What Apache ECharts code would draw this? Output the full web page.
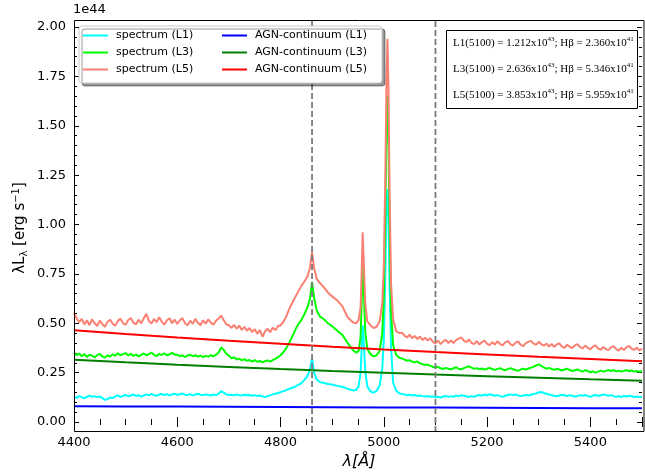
<!DOCTYPE html>
<html><head><meta charset="utf-8">
<script src="https://cdn.jsdelivr.net/npm/echarts@6/dist/echarts.min.js"></script>
<style>html,body{margin:0;padding:0;background:#fff}#c{width:645px;height:475px}</style>
</head><body><div id="c"></div>
<script>
// wavelength grid (Angstrom)
const wave = [
4400,4405,4410,4415,4420,4425,4430,4435,4440,4445,
4450,4455,4460,4465,4470,4475,4480,4485,4490,4495,
4500,4505,4510,4515,4520,4525,4530,4535,4540,4545,
4550,4555,4560,4565,4570,4575,4580,4585,4590,4595,
4600,4605,4610,4615,4620,4625,4630,4635,4640,4645,
4650,4655,4660,4665,4670,4675,4680,4685,4690,4695,
4700,4705,4710,4715,4720,4725,4730,4735,4740,4745,
4750,4755,4760,4765,4770,4775,4780,4785,4790,4795,
4800,4805,4810,4815,4820,4825,4830,4835,4840,
4846,4852,4857,4861,4865,4870,4876,
4884,4892,4900,4910,4920,4930,4940,4946,4951,
4955,4957,4959,4961,4964,4968,4974,4980,4986,4992,
4997,5000,5003,5005,5007,5009,5011,5014,5018,5024,
5030,
5035,5040,5045,5050,5055,5060,5065,5070,5075,5080,
5085,5090,5095,5100,5105,5110,5115,5120,5125,5130,
5135,5140,5145,5150,5155,5160,5165,5170,5175,5180,
5185,5190,5195,5200,5205,5210,5215,5220,5225,5230,
5235,5240,5245,5250,5255,5260,5265,5270,5275,5280,
5285,5290,5295,5300,5305,5310,5315,5320,5325,5330,
5335,5340,5345,5350,5355,5360,5365,5370,5375,5380,
5385,5390,5395,5400,5405,5410,5415,5420,5425,5430,
5435,5440,5445,5450,5455,5460,5465,5470,5475,5480,
5485,5490,5495,5500];

const specL1 = [
0.128,0.122,0.131,0.126,0.120,0.128,0.134,0.127,0.131,0.125,
0.129,0.121,0.112,0.116,0.124,0.121,0.13,0.134,0.128,0.132,
0.137,0.13,0.134,0.139,0.132,0.136,0.129,0.134,0.14,0.135,
0.142,0.136,0.133,0.139,0.142,0.137,0.141,0.135,0.139,0.144,
0.137,0.141,0.144,0.138,0.136,0.141,0.135,0.139,0.143,0.138,
0.136,0.14,0.137,0.134,0.139,0.136,0.143,0.156,0.149,0.14,
0.137,0.138,0.135,0.139,0.136,0.134,0.138,0.135,0.137,0.133,
0.136,0.132,0.134,0.129,0.126,0.131,0.135,0.14,0.143,0.147,
0.151,0.156,0.16,0.166,0.171,0.176,0.182,0.189,0.196,
0.212,0.232,0.268,0.322,0.25,0.215,0.202,
0.197,0.192,0.19,0.183,0.178,0.168,0.16,0.162,0.178,
0.25,0.37,0.49,0.41,0.26,0.18,0.155,0.148,0.158,0.185,
0.27,0.42,0.76,1.06,1.18,1.04,0.72,0.38,0.2,0.158,
0.145,
0.142,0.14,0.136,0.138,0.134,0.137,0.132,0.134,0.131,0.129,
0.132,0.127,0.13,0.125,0.128,0.124,0.129,0.132,0.127,0.131,
0.128,0.134,0.13,0.136,0.133,0.13,0.127,0.131,0.128,0.134,
0.137,0.133,0.139,0.135,0.141,0.137,0.133,0.136,0.131,0.128,
0.133,0.137,0.14,0.136,0.139,0.135,0.131,0.134,0.137,0.134,
0.138,0.142,0.145,0.149,0.152,0.147,0.143,0.139,0.136,0.133,
0.13,0.134,0.138,0.135,0.132,0.136,0.133,0.129,0.132,0.136,
0.133,0.137,0.131,0.128,0.134,0.137,0.132,0.135,0.139,0.136,
0.133,0.136,0.131,0.128,0.13,0.127,0.132,0.129,0.133,0.13,
0.127,0.129,0.126,0.128];

const specL3 = [
0.352,0.338,0.347,0.333,0.344,0.329,0.341,0.336,0.327,0.339,
0.345,0.332,0.326,0.338,0.331,0.343,0.336,0.348,0.338,0.344,
0.349,0.337,0.345,0.335,0.341,0.332,0.34,0.347,0.338,0.344,
0.352,0.34,0.334,0.345,0.339,0.348,0.337,0.343,0.35,0.341,
0.34,0.333,0.338,0.329,0.337,0.341,0.333,0.338,0.331,0.336,
0.328,0.335,0.331,0.338,0.333,0.341,0.352,0.378,0.365,0.345,
0.336,0.322,0.328,0.316,0.321,0.312,0.318,0.31,0.314,0.306,
0.313,0.305,0.309,0.302,0.308,0.312,0.306,0.314,0.32,0.328,
0.338,0.352,0.37,0.392,0.418,0.445,0.475,0.498,0.515,
0.545,0.58,0.625,0.71,0.63,0.565,0.535,
0.52,0.5,0.485,0.462,0.44,0.4,0.365,0.352,0.358,
0.43,0.6,0.81,0.68,0.46,0.37,0.345,0.332,0.338,0.36,
0.45,0.63,1.06,1.46,1.65,1.44,1.0,0.56,0.39,0.34,
0.325,
0.322,0.316,0.31,0.313,0.305,0.302,0.306,0.297,0.293,0.289,
0.291,0.284,0.28,0.276,0.279,0.272,0.268,0.274,0.27,0.266,
0.272,0.277,0.27,0.266,0.273,0.278,0.282,0.275,0.269,0.273,
0.267,0.271,0.265,0.27,0.274,0.268,0.264,0.269,0.272,0.266,
0.262,0.268,0.273,0.267,0.263,0.259,0.265,0.27,0.266,0.271,
0.275,0.28,0.286,0.292,0.284,0.276,0.27,0.274,0.268,0.264,
0.27,0.266,0.261,0.266,0.27,0.263,0.258,0.262,0.266,0.26,
0.255,0.262,0.258,0.252,0.256,0.25,0.255,0.26,0.255,0.259,
0.263,0.258,0.262,0.256,0.26,0.255,0.259,0.263,0.257,0.261,
0.255,0.258,0.254,0.257];

const specL5 = [
0.552,0.525,0.505,0.522,0.494,0.515,0.49,0.52,0.5,0.486,
0.513,0.495,0.482,0.508,0.518,0.497,0.488,0.512,0.523,0.5,
0.492,0.516,0.527,0.503,0.494,0.518,0.5,0.524,0.548,0.512,
0.498,0.522,0.505,0.53,0.508,0.493,0.515,0.525,0.5,0.518,
0.496,0.515,0.526,0.5,0.49,0.513,0.497,0.522,0.502,0.49,
0.515,0.498,0.52,0.503,0.493,0.513,0.524,0.538,0.515,0.495,
0.49,0.476,0.492,0.472,0.488,0.466,0.482,0.462,0.476,0.455,
0.47,0.447,0.465,0.432,0.458,0.472,0.455,0.478,0.465,0.485,
0.49,0.505,0.528,0.56,0.59,0.615,0.64,0.665,0.688,
0.71,0.735,0.78,0.86,0.78,0.725,0.705,
0.682,0.655,0.636,0.615,0.585,0.53,0.505,0.5,0.515,
0.58,0.75,0.96,0.82,0.6,0.51,0.49,0.476,0.482,0.51,
0.6,0.79,1.26,1.7,1.94,1.7,1.2,0.7,0.52,0.46,
0.45,
0.452,0.437,0.428,0.442,0.424,0.436,0.42,0.433,0.415,0.427,
0.412,0.424,0.406,0.398,0.412,0.394,0.408,0.416,0.4,0.413,
0.4,0.415,0.422,0.428,0.412,0.404,0.418,0.4,0.394,0.41,
0.392,0.405,0.412,0.396,0.389,0.404,0.392,0.409,0.395,0.388,
0.403,0.41,0.395,0.387,0.402,0.408,0.391,0.384,0.399,0.406,
0.411,0.397,0.391,0.406,0.394,0.386,0.397,0.382,0.395,0.38,
0.393,0.398,0.382,0.376,0.391,0.381,0.374,0.388,0.394,0.379,
0.373,0.387,0.375,0.368,0.382,0.388,0.372,0.366,0.38,0.369,
0.364,0.378,0.384,0.369,0.362,0.376,0.364,0.379,0.385,0.371,
0.365,0.377,0.362,0.372];

// AGN continua
const contWave = [4400,4500,4600,4700,4800,4900,5000,5100,5200,5300,5400,5500];
const contL1 = [0.080,0.079,0.078,0.077,0.076,0.075,0.074,0.073,0.072,0.071,0.070,0.069];
const contL3 = [0.315,0.302,0.290,0.279,0.268,0.258,0.249,0.240,0.232,0.224,0.216,0.209];
const contL5 = [0.465,0.446,0.428,0.411,0.396,0.381,0.367,0.354,0.342,0.330,0.319,0.308];

// reference wavelengths (dashed lines) and y span of plot frame
const refLines = [4861, 5100];
const frameY = [-0.05, 2.035];

const specNames = ['spectrum (L1)','spectrum (L3)','spectrum (L5)'];
const contNames = ['AGN-continuum (L1)','AGN-continuum (L3)','AGN-continuum (L5)'];
const boxLines = [
  ['L1(5100) = 1.212x10','43','; Hβ = 2.360x10','41'],
  ['L3(5100) = 2.636x10','43','; Hβ = 5.346x10','41'],
  ['L5(5100) = 3.853x10','43','; Hβ = 5.959x10','41']
];

const specColors = ['#00ffff','#00ff00','#fa8072'];
const contColors = ['#0000ff','#008000','#ff0000'];

function pairs(xs, ys){ return xs.map((x,i)=>[x, ys[i]]); }

const FONT = 'DejaVu Sans';
const series = [];
[specL1, specL3, specL5].forEach((d,i)=>{
  series.push({name: specNames[i], type:'line', data: pairs(wave, d), showSymbol:false, symbol:'none',
    color: specColors[i], lineStyle:{width:2, color: specColors[i]}, emphasis:{disabled:true}, z:2});
});
[contL1, contL3, contL5].forEach((d,i)=>{
  series.push({name: contNames[i], type:'line', data: pairs(contWave, d), showSymbol:false, symbol:'none',
    color: contColors[i], lineStyle:{width:2, color: contColors[i]}, emphasis:{disabled:true}, z:2});
});
refLines.forEach(w=>{
  series.push({type:'line', data: frameY.map(y=>[w,y]), showSymbol:false, symbol:'none', clip:false, silent:true,
    lineStyle:{width:1.8, color:'#7a7a7a', type:[6,3]}, emphasis:{disabled:true}, z:3});
});

function xAx(pos, offset, labels){
  return {type:'value', position:pos, offset:offset, min:4400, max:5500, interval:200,
    axisLine:{show:false}, splitLine:{show:false},
    axisTick:{show:true, inside:true, length:5, lineStyle:{color:'#000', width:1}},
    minorTick:{show:true, splitNumber:4, length:3, lineStyle:{color:'#000', width:1}},
    axisLabel:{show:labels, color:'#000', fontSize:13, fontFamily:FONT, margin:4,
      formatter: v => (v % 200 === 0 ? String(v) : '')}};
}
function yAx(pos, labels){
  return {type:'value', position:pos, min:0, max:2, interval:0.25,
    axisLine:{show:false}, splitLine:{show:false},
    axisTick:{show:true, inside:true, length:5, lineStyle:{color:'#000', width:1}},
    minorTick:{show:true, splitNumber:5, length:3, lineStyle:{color:'#000', width:1}},
    axisLabel:{show:labels, color:'#000', fontSize:13, fontFamily:FONT, margin:8,
      formatter: v => v.toFixed(2)}};
}

const graphics = [
  {type:'rect', z:5, shape:{x:79, y:26, width:303, height:57, r:3},
   style:{fill:'#fff', stroke:'#cccccc', lineWidth:1, shadowColor:'rgba(0,0,0,0.4)', shadowOffsetX:3, shadowOffsetY:3, shadowBlur:0}},
  {type:'rect', z:5, shape:{x:446.5, y:30.5, width:191, height:78},
   style:{fill:'#fff', stroke:'#000', lineWidth:1}},
  {type:'rect', z:20, shape:{x:74.5, y:20.5, width:569.5, height:411},
   style:{fill:null, stroke:'#000', lineWidth:1}},
  {type:'text', z:6, x:73, y:3, style:{text:'1e44', fontSize:13, fontFamily:FONT, fill:'#000'}},
  {type:'text', z:6, x:20, y:228, rotation:Math.PI/2,
   style:{text:'{a|λL}{b|λ}{a| [erg s}{c|−1}{a|]}', align:'center', verticalAlign:'middle',
     rich:{a:{fontSize:15, fontFamily:FONT, fill:'#000'},
           b:{fontSize:10, fontFamily:FONT, fill:'#000', verticalAlign:'bottom', padding:[6,0,0,0]},
           c:{fontSize:10, fontFamily:FONT, fill:'#000', verticalAlign:'top', padding:[0,0,8,0]}}}},
  {type:'text', z:6, x:359, y:462,
   style:{text:'λ[Å]', fontSize:16, fontStyle:'italic', fontFamily:FONT, fill:'#000', align:'center', verticalAlign:'middle'}}
];
boxLines.forEach((ln,i)=>{
  graphics.push({type:'text', z:6, x:453, y:43 + i*26,
    style:{text:'{t|'+ln[0]+'}{s|'+ln[1]+'}{t|'+ln[2]+'}{s|'+ln[3]+'}', verticalAlign:'middle', align:'left',
      rich:{t:{fontSize:11, fontFamily:'Liberation Serif', fill:'#000'},
            s:{fontSize:7, fontFamily:'Liberation Serif', fill:'#000', verticalAlign:'top', padding:[0,0,7,0]}}}});
});

function legend(names, left){
  return {data:names, orient:'vertical', left:left, top:29, itemWidth:25, itemHeight:2, icon:'rect', itemGap:4,
    z:8, selectedMode:false, backgroundColor:'transparent', padding:0,
    textStyle:{fontSize:11, fontFamily:FONT, color:'#000', lineHeight:13, padding:[0,0,0,3]}};
}

const chart = echarts.init(document.getElementById('c'), null, {renderer:'canvas'});
chart.setOption({
  animation:false,
  backgroundColor:'#fff',
  grid:{left:74, right:1, top:27, bottom:53, containLabel:false},
  xAxis:[xAx('bottom',10,true), xAx('top',7,false)],
  yAxis:[yAx('left',true), yAx('right',false)],
  legend:[legend(specNames,83), legend(contNames,222)],
  graphic:graphics,
  series:series
});
</script></body></html>
